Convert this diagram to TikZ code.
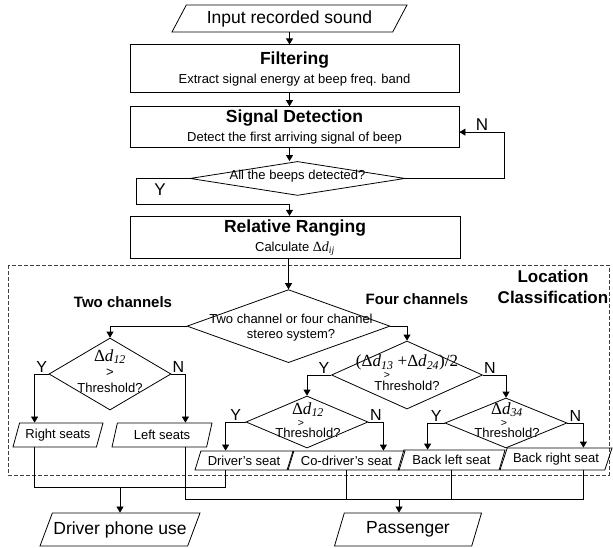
\documentclass[tikz,border=0pt]{standalone}
\usepackage{fontspec}
\setmainfont{Liberation Sans}
\newfontfamily\tnr{Liberation Serif}
\usetikzlibrary{
	positioning,
	shapes.geometric,
	arrows.meta
}
\newcommand{\bigtxt}{\fontsize{17.5}{21}\selectfont}
\newcommand{\midtxt}{\fontsize{15}{18}\selectfont}
\newcommand{\smalltxt}{\fontsize{13}{15}\selectfont}
\newcommand{\gt}{{\fontsize{10.5}{10.5}\selectfont >}}
\newcommand{\dlt}[2][17]{{\tnr\fontsize{#1}{#1}\selectfont Δ\textit{d}\textsubscript{\textit{#2}}}}

\begin{document}
\begin{tikzpicture}[
	x=1pt, y=-1pt,
	node distance =0mm,
	>={Triangle[length=6pt,width=7pt]},
	line width=0.8pt,
	process/.style = {
		rectangle,
		draw,
		minimum width=329pt,
		align=center,
		font=\smalltxt
	},
	io/.style = {
		trapezium,
		trapezium left angle=63,
		trapezium right angle=117,
		trapezium stretches body,
		draw,
		inner sep=1pt,
		font=\smalltxt
	},
	decision/.style = {
		diamond,
		draw,
		inner sep=0pt
	},
	dtext/.style = {
		align=center,
		inner sep=0pt,
		font=\smalltxt
	},
	yn/.style = {
		inner sep=1pt,
		font=\fontsize{16}{16}\selectfont
	},
	head/.style = {
		align=center,
		font=\bfseries\midtxt
	},
]
	\useasboundingbox (0,0) rectangle (613,548);

	% top of the chart
	\node (inp) [io, trapezium left angle=52, trapezium right angle=128, minimum width=235pt, minimum height=27pt, font=\bigtxt] at (289.5,18.5) {Input recorded sound};
	\node (filt) [process, minimum height=48pt, below=12pt of inp, xshift=5pt] {{\bfseries\bigtxt Filtering}\\[4pt] Extract signal energy at beep freq. band};
	\node (sig) [process, minimum height=40pt, below=13pt of filt] {{\bfseries\bigtxt Signal Detection}\\[4pt] Detect the first arriving signal of beep};
	\node (alldet) [decision, minimum width=215pt, minimum height=34pt, below=13pt of sig, xshift=3pt] {};
	\node (alldett) [dtext] at ([yshift=2pt]alldet.center) {All the beeps detected?};
	\node (rr) [process, minimum width=330pt, minimum height=40pt, below=20pt of alldet, xshift=-2.5pt] {{\bfseries\bigtxt Relative Ranging}\\[4pt] Calculate \dlt[14]{ij}};
	\node (yloop) [yn, font=\fontsize{17}{17}\selectfont] at (160,190) {Y};

	\draw[->] (inp.south) -- (inp.south |- filt.north);
	\draw[->] (filt.south -| inp) -- (sig.north -| inp);
	\draw[->] (sig.south -| inp) -- (alldet.north -| inp);
	\draw[->] (alldet.west) -- ++(-53,0) -- ++(0,26) -| (rr.north -| inp);
	\draw[->] (alldet.east) -- ++(99,0) |- node[yn, above, pos=0.75, font=\fontsize{17}{17}\selectfont] (nloop) {N} ([yshift=-5pt]sig.east);

	% location classification
	\draw[dashed, dash pattern=on 4pt off 2pt, line width=0.6pt, black!75] (8,265) rectangle (609,475);
	\node (loc) [align=center, font=\bfseries\fontsize{17}{21}\selectfont] at (553,286.5) {Location\\Classification};

	\node (chan) [decision, minimum width=203pt, minimum height=73pt, below=30pt of rr, xshift=-6.5pt] {};
	\node (chant) [dtext] at (291,327.5) {Two channel or four channel\\stereo system?};
	\node (two) [head] at (123,302) {Two channels};
	\node (four) [head] at (417,299) {Four channels};

	\node (d12l) [decision, minimum width=122pt, minimum height=72pt] at (110,374) {};
	\node (d12lt) [dtext] at (110,371) {\dlt{12}\\ >\\[1pt] Threshold?};
	\node (d4) [decision, minimum width=151pt, minimum height=68pt] at (407,375) {};
	\node (d4t) [dtext] at (407,373) {{\tnr\fontsize{17}{17}\selectfont (\dlt{13} +\dlt{24})/2}\\[-3pt] \hspace*{-40pt}\gt\\[-3pt] Threshold?};
	\node (d12r) [decision, minimum width=122pt, minimum height=52pt] at (307,422) {};
	\node (d12rt) [dtext] at (308,420) {\dlt{12}\\[-3pt] \hspace*{-14pt}\gt\\[-4pt] Threshold?};
	\node (d34) [decision, minimum width=122pt, minimum height=50pt] at (506,423) {};
	\node (d34t) [dtext] at (507,420) {\dlt{34}\\[-3pt] \hspace*{-6pt}\gt\\[-4pt] Threshold?};

	\node (rseat) [io, minimum width=90pt, minimum height=24pt, trapezium left angle=65, trapezium right angle=115] at (58,435) {Right seats};
	\node (lseat) [io, minimum width=100pt, minimum height=24pt, trapezium left angle=65, trapezium right angle=115] at (162,435) {Left seats};
	\node (dseat) [io, minimum width=98pt, minimum height=19pt] at (244,460.5) {Driver's seat};
	\node (cdseat) [io, minimum width=117pt, minimum height=19pt] at (346.5,460.5) {Co-driver's seat};
	\node (blseat) [io, minimum width=107pt, minimum height=20pt] at (451.5,460) {Back left seat};
	\node (brseat) [io, minimum width=112pt, minimum height=22pt] at (556,459) {Back right seat};

	\draw[->] (rr.south -| chan) -- (chan.north);
	\draw[->] (chan.west) -| (d12l.north);
	\draw[->] (chan.east) -| (d4.north);
	\draw[->] (d12l.west) -- node[yn, above] (y1) {Y} ++(-14,0) coordinate (rs) -- (rs |- rseat.north);
	\draw[->] (d12l.east) -- node[yn, above] (n1) {N} ++(14,0) coordinate (ls) -- (ls |- lseat.north);
	\draw[->] (d4.west) -| node[yn, above, pos=0.15] (y2) {Y} (d12r.north);
	\draw[->] (d4.east) -| node[yn, above, pos=0.15] (n2) {N} (d34.north);
	\draw[->] (d12r.west) -- node[yn, above] (y3) {Y} ++(-20,0) coordinate (ds) -- (ds |- dseat.north);
	\draw[->] (d12r.east) -- node[yn, above] (n3) {N} ++(15,0) coordinate (cds) -- (cds |- cdseat.north);
	\draw[->] (d34.west) -- node[yn, above] (y4) {Y} ++(-17,0) coordinate (bls) -- (bls |- blseat.north);
	\draw[->] (d34.east) -- node[yn, above] (n4) {N} ++(16,0) coordinate (brs) -- (brs |- brseat.north);

	% outputs
	\node (dpu) [io, minimum width=160pt, minimum height=33pt, trapezium left angle=56, trapezium right angle=124, font=\bigtxt] at (120,529.5) {Driver phone use};
	\node (pass) [io, minimum width=147pt, minimum height=33pt, trapezium left angle=61, trapezium right angle=119, font=\bigtxt] at (408,529.5) {Passenger};
	\coordinate (pin) at ([xshift=-9pt]pass.north);

	\draw (rs |- rseat.south) -- ++(0,40) coordinate (j1) -| (ds |- dseat.south);
	\draw[->] (dpu.north |- j1) -- (dpu.north);
	\draw (ls |- lseat.south) -- ++(0,52) coordinate (j2) -| (brs |- brseat.south);
	\draw (cdseat.south) -- (cdseat.south |- j2);
	\draw (blseat.south) -- (blseat.south |- j2);
	\draw[->] (pin |- j2) -- (pin);
\end{tikzpicture}
\end{document}
